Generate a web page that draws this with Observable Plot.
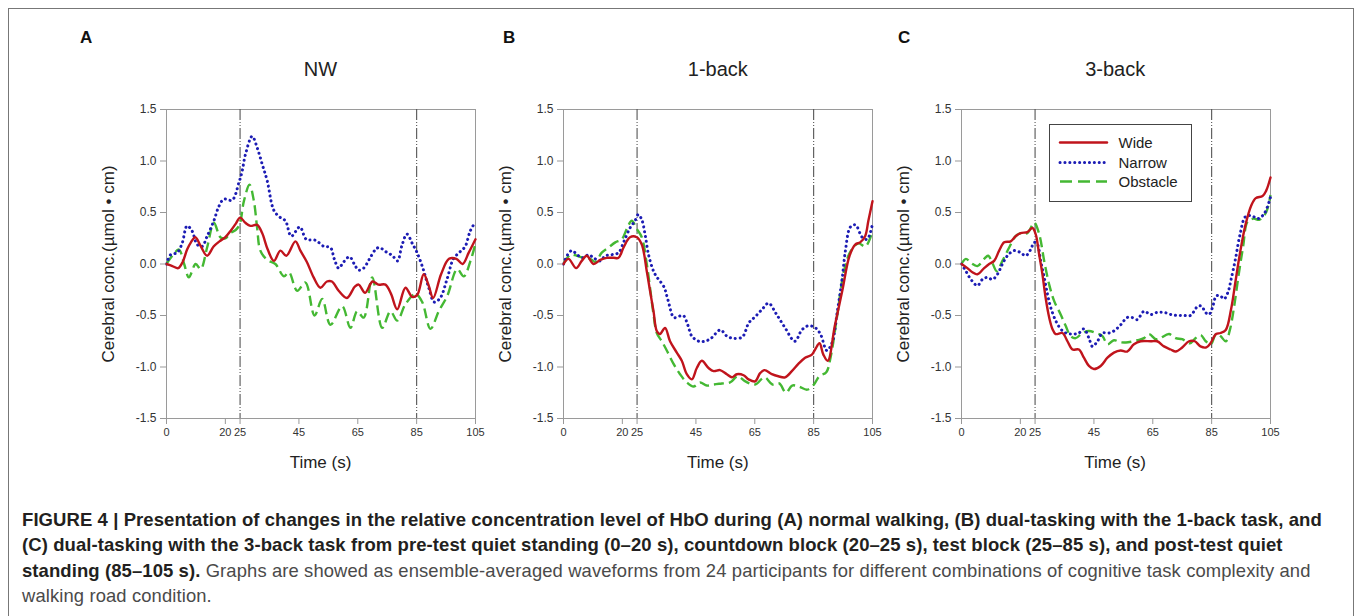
<!DOCTYPE html>
<html>
<head>
<meta charset="utf-8">
<script src="https://cdn.jsdelivr.net/npm/d3@7"></script>
<script src="https://cdn.jsdelivr.net/npm/@observablehq/plot@0.6"></script>
<style>
  html, body { margin: 0; padding: 0; background: #fff; }
  body { width: 1357px; height: 616px; overflow: hidden; position: relative; font-family: "Liberation Sans", Arial, Helvetica, sans-serif; }
  .frame { position: absolute; left: 8px; top: 8px; width: 1346px; height: 640px; border: 1px solid #777; box-sizing: border-box; }
  .abs { position: absolute; white-space: nowrap; }
  .ctr { transform: translate(-50%, -50%); }
  .letter { font-weight: bold; font-size: 17px; color: #111; }
  .title { font-size: 20px; color: #222; }
  .alabel { font-size: 17px; color: #222; }
  .ylab { transform: translate(-50%, -50%) rotate(-90deg); }
  .panel { position: absolute; }
  .caption { position: absolute; left: 22px; top: 507px; font-size: 18.5px; line-height: 25.4px; color: #231f20; white-space: nowrap; }
  .caption b { font-weight: bold; color: #231f20; font-size: 18.5px; letter-spacing: 0.08px; }
  .caption .reg { color: #4a4a4a; font-size: 18.4px; letter-spacing: 0.12px; }
  .legend { position: absolute; left: 1049px; top: 124px; width: 143px; height: 78px; border: 1.5px solid #444; box-sizing: border-box; background: #fff; }
</style>
</head>
<body>
<div class="frame"></div>
<div id="root"></div>
<script>
// ---------------- DATA ----------------
const panelLetters = ["A", "B", "C"];
const panelTitles = ["NW", "1-back", "3-back"];
const seriesNames = ["Wide", "Narrow", "Obstacle"];
const xTicks = [0, 20, 25, 45, 65, 85, 105];
const yTicks = [-1.5, -1.0, -0.5, 0.0, 0.5, 1.0, 1.5];
const markerTimes = [25, 85];
const yLabel = "Cerebral conc.(\u00b5mol \u2022 cm)";
const xLabel = "Time (s)";

// Panel A (NW)
const tA_wide = [0,2,4,5.5,7,8.3,9.8,11.5,13.8,16,18,20,22,23.5,25,26.8,28.5,30.8,32.5,34.4,36.5,38.7,40.7,43.8,45.5,47.7,50,52.3,54.5,56.2,58.5,61.3,64,65.3,67.5,70,72,74.4,76.3,78.4,81.2,83.5,85.2,87.4,89,90.6,93.3,96,98.5,100.6,102.7,105];
const vA_wide = [0,-0.02,-0.04,0.02,0.14,0.21,0.26,0.18,0.08,0.17,0.22,0.26,0.33,0.39,0.45,0.40,0.37,0.38,0.30,0.14,0.03,0.13,0.08,0.22,0.13,0.02,-0.13,-0.23,-0.17,-0.17,-0.26,-0.33,-0.22,-0.20,-0.28,-0.17,-0.20,-0.20,-0.29,-0.44,-0.23,-0.32,-0.30,-0.10,-0.20,-0.33,-0.10,0.05,0.05,0.00,0.11,0.24];
const tA_narrow = [0,1.4,3.6,5.3,7,8.7,10.4,12.1,13.8,16.1,17.8,19.5,22.3,24.6,25.7,26.8,29.1,30.8,32.5,34.2,36.5,38.7,40.4,42.4,45.3,47.5,50.6,53.5,55.7,57,58.5,60.2,62.2,63.8,65.3,67,69,71,72.3,74.5,76.8,78.5,80,81.7,83.5,85,87,89,91,93,95.3,97.5,99.8,101.5,103.2,105];
const vA_narrow = [0,0.09,0.11,0.20,0.37,0.32,0.19,0.17,0.27,0.42,0.56,0.63,0.62,0.79,0.90,1.06,1.24,1.13,0.97,0.81,0.52,0.45,0.42,0.27,0.36,0.24,0.23,0.17,0.16,0.05,-0.04,0.02,0.07,0.00,-0.06,-0.04,0.05,0.14,0.16,0.12,0.08,0.03,0.18,0.29,0.20,0.12,-0.03,-0.22,-0.37,-0.33,-0.15,0.05,0.12,0.17,0.32,0.41];
const tA_obstacle = [0,2,4.2,6,7.6,9.9,11.6,13.8,16.1,18.3,20,21.7,23.5,24.8,26.3,28.2,29.7,30.8,31.9,34.2,37,39.9,41.6,44.4,47.2,50.3,52.9,55.7,59.7,62.5,64.8,67,69.9,73.3,76.1,78.4,81.2,84.6,86.9,89.7,92.5,95.4,98.8,101,103.3,105];
const vA_obstacle = [0,0.08,0.14,0.00,-0.13,0.00,-0.05,0.16,0.40,0.26,0.25,0.30,0.33,0.38,0.61,0.77,0.61,0.35,0.13,0.04,0.00,-0.12,-0.08,-0.26,-0.18,-0.50,-0.34,-0.59,-0.41,-0.62,-0.46,-0.52,-0.13,-0.62,-0.46,-0.55,-0.39,-0.29,-0.37,-0.63,-0.46,-0.31,-0.05,-0.12,0.03,0.20];

// Panel B (1-back)
const tB_wide = [0,1.7,4.3,6.2,7.9,10.2,12.5,14.7,17,18.7,20.4,22.6,24.9,26.6,28.3,29.4,30.6,31.7,32.8,34.5,36.2,38.5,40.2,41.9,43.6,45.3,47,49.3,51,53.2,55.5,57.2,58.9,61.2,62.9,65.1,66.8,68.3,70.8,73,75.3,77.6,79.8,82.1,84.4,85.5,87,88.3,89.8,92.2,94.8,97.2,99.2,100.8,102.5,103.6,105];
const vB_wide = [0,0.05,-0.04,0.03,0.08,0.00,0.04,0.06,0.06,0.06,0.16,0.26,0.26,0.19,-0.07,-0.26,-0.46,-0.65,-0.68,-0.62,-0.75,-0.86,-0.94,-1.07,-1.12,-1.01,-0.94,-1.01,-1.04,-1.03,-1.07,-1.10,-1.07,-1.08,-1.12,-1.14,-1.06,-1.03,-1.07,-1.09,-1.10,-1.04,-0.97,-0.91,-0.88,-0.83,-0.77,-0.88,-0.94,-0.60,-0.25,0.08,0.19,0.21,0.27,0.42,0.61];
const tB_narrow = [0,1.4,2.8,5.1,6.8,8.5,10.2,12.5,14.2,16.4,18.7,20.4,22.6,24.3,25.4,26.6,27.7,28.9,30.6,31.8,34.1,35.5,37.5,39,40.7,42.2,43.6,46,48.1,50.2,53.3,55.5,57.5,60.7,63,65.2,67.5,69.7,72.2,75.3,78.6,81,83.2,85.6,87.3,89.5,91.3,93,94.7,95.8,97.5,99.2,101.5,103.2,105];
const vB_narrow = [0,0.09,0.13,0.08,0.06,0.09,0.06,0.03,0.08,0.09,0.11,0.21,0.35,0.42,0.48,0.43,0.29,0.09,-0.07,-0.13,-0.22,-0.35,-0.52,-0.51,-0.50,-0.59,-0.70,-0.75,-0.75,-0.72,-0.64,-0.70,-0.72,-0.71,-0.57,-0.51,-0.44,-0.38,-0.48,-0.62,-0.75,-0.64,-0.60,-0.62,-0.68,-0.84,-0.76,-0.47,-0.14,0.13,0.36,0.38,0.26,0.24,0.39];
const tB_obstacle = [0,2.3,4.5,6.8,9.1,10.8,13,15.3,17.6,19.8,21.5,23.2,24.9,26.6,28.3,29.4,30.6,31.7,33.4,35.1,37.4,39.6,41.9,44.2,46.4,48.7,51,53.8,56.6,59.2,61.8,65.1,68.3,71,73.3,75.6,77.7,80,82.8,85.1,86.9,89.3,90.8,93,95.3,97.5,100.2,102.6,105];
const vB_obstacle = [0,0.09,0.08,0.06,0.05,0.02,0.11,0.16,0.21,0.24,0.34,0.42,0.34,0.26,0.00,-0.23,-0.49,-0.67,-0.75,-0.84,-0.97,-1.07,-1.15,-1.19,-1.15,-1.18,-1.17,-1.16,-1.15,-1.09,-1.14,-1.17,-1.10,-1.17,-1.16,-1.25,-1.18,-1.19,-1.22,-1.17,-1.09,-1.05,-0.90,-0.50,-0.07,0.12,0.20,0.17,0.32];

// Panel C (3-back)
const tC_wide = [0,2,3.7,5.4,7.7,9.4,11.1,12.8,14.5,16.7,18.4,20.1,22.4,24.1,25.2,26.4,27.5,28.6,29.8,30.9,32,34.3,36,37.7,39.9,41.6,43.3,45,47.3,49.6,51.8,54.1,56.3,58.6,60.9,64.3,66.5,68.8,71.1,72.8,75,77.3,79.3,81.2,83.2,84.6,86.5,88,89.8,91.6,93.1,94.6,96.5,98.5,100,102.3,103.5,105];
const vC_wide = [0,-0.04,-0.08,-0.10,-0.04,0.00,0.03,0.13,0.21,0.22,0.27,0.30,0.31,0.35,0.29,0.09,-0.10,-0.33,-0.52,-0.63,-0.68,-0.67,-0.75,-0.83,-0.83,-0.91,-0.99,-1.02,-0.99,-0.91,-0.86,-0.84,-0.85,-0.78,-0.75,-0.75,-0.75,-0.80,-0.83,-0.85,-0.81,-0.75,-0.75,-0.80,-0.81,-0.77,-0.68,-0.67,-0.64,-0.44,-0.17,0.10,0.38,0.57,0.64,0.66,0.71,0.84];
const tC_narrow = [0,1.5,3.2,5.4,7.1,8.8,10.5,12.2,13.9,15.6,17.9,20.1,21.8,23.5,24.7,25.8,26.9,28.1,29.2,30.3,32,33.7,35.4,37.7,39.9,41.6,43.3,44.5,46.2,47.9,50.1,51.8,54.1,56.3,58,59.7,62,64.3,66.5,68.8,71.1,73.3,75.6,77.8,80.3,81.6,82.9,84.1,85.2,86.6,88,89.2,90.6,91.6,93.1,94.6,96.5,98.5,100.7,102.9,105];
const vC_narrow = [0,-0.07,-0.15,-0.21,-0.15,-0.13,-0.15,-0.10,0.00,0.08,0.13,0.11,0.08,0.14,0.21,0.19,0.03,-0.13,-0.29,-0.42,-0.55,-0.63,-0.67,-0.68,-0.67,-0.63,-0.72,-0.80,-0.75,-0.67,-0.67,-0.65,-0.59,-0.52,-0.52,-0.54,-0.46,-0.49,-0.47,-0.47,-0.49,-0.50,-0.50,-0.50,-0.41,-0.41,-0.47,-0.49,-0.43,-0.31,-0.31,-0.34,-0.27,-0.15,0.05,0.28,0.46,0.47,0.44,0.49,0.65];
const tC_obstacle = [0,1.5,3.2,5.4,7.7,9.1,10.5,12,13.9,16.2,18.4,20.1,22.4,24.7,26.4,28.1,29.8,31.5,33.7,35.4,37.1,38.8,41.1,43.3,45.6,47.9,49.6,51.8,54.1,56.6,59.8,62,63.7,66,67.5,70.5,72.8,75,77.6,79.5,81.3,83,84.7,86.5,88,89.8,91.2,92.6,94.1,95.7,97.2,99.2,101.3,103.5,105];
const vC_obstacle = [0,0.05,0.01,-0.02,0.05,0.08,0.01,-0.07,0.03,0.16,0.27,0.30,0.30,0.40,0.29,0.03,-0.20,-0.36,-0.49,-0.60,-0.70,-0.72,-0.67,-0.65,-0.67,-0.70,-0.78,-0.74,-0.76,-0.76,-0.74,-0.72,-0.68,-0.73,-0.72,-0.68,-0.72,-0.73,-0.77,-0.72,-0.69,-0.75,-0.78,-0.68,-0.70,-0.75,-0.64,-0.42,-0.12,0.17,0.41,0.44,0.43,0.50,0.67];

const captionLines = [
  ["FIGURE 4 | Presentation of changes in the relative concentration level of HbO during (A) normal walking, (B) dual-tasking with the 1-back task, and", ""],
  ["(C) dual-tasking with the 3-back task from pre-test quiet standing (0\u201320 s), countdown block (20\u201325 s), test block (25\u201385 s), and post-test quiet", ""],
  ["standing (85\u2013105 s).", " Graphs are showed as ensemble-averaged waveforms from 24 participants for different combinations of cognitive task complexity and"],
  ["", "walking road condition."]
];

// ---------------- STYLES ----------------
const seriesStyle = {
  Wide:     {stroke: "#c0141c", strokeWidth: 2.4, strokeDasharray: null, strokeLinecap: "round"},
  Narrow:   {stroke: "#1c1cb4", strokeWidth: 3, strokeDasharray: "0.1,4.8", strokeLinecap: "round"},
  Obstacle: {stroke: "#44b833", strokeWidth: 2.4, strokeDasharray: "10,5", strokeLinecap: "butt"}
};

const panelData = [
  {Wide: [tA_wide, vA_wide], Narrow: [tA_narrow, vA_narrow], Obstacle: [tA_obstacle, vA_obstacle]},
  {Wide: [tB_wide, vB_wide], Narrow: [tB_narrow, vB_narrow], Obstacle: [tB_obstacle, vB_obstacle]},
  {Wide: [tC_wide, vC_wide], Narrow: [tC_narrow, vC_narrow], Obstacle: [tC_obstacle, vC_obstacle]}
];

// layout: plot-area left edges (page px), common top
const plotLefts = [166, 563.3, 960.7];
const plotTop = 109, plotW = 309, plotH = 309;
const mL = 50, mT = 10, mR = 10, mB = 40;

const root = document.getElementById("root");

function addText(cls, text, x, y, extraStyle) {
  const d = document.createElement("div");
  d.className = "abs " + cls;
  d.textContent = text;
  d.style.left = x + "px";
  d.style.top = y + "px";
  if (extraStyle) Object.assign(d.style, extraStyle);
  root.appendChild(d);
  return d;
}

panelData.forEach((pd, i) => {
  const marks = [
    Plot.frame({stroke: "#9a9a9a", strokeWidth: 1}),
    Plot.ruleX(markerTimes, {stroke: "#555", strokeWidth: 1.1, strokeDasharray: "11,2,1,2,1,2"})
  ];
  // draw order: obstacle, narrow, wide
  ["Obstacle", "Narrow", "Wide"].forEach(name => {
    const [ts, vs] = pd[name];
    const rows = ts.map((t, k) => ({t, v: vs[k]}));
    const s = seriesStyle[name];
    marks.push(Plot.line(rows, {x: "t", y: "v", curve: "catmull-rom", stroke: s.stroke, strokeWidth: s.strokeWidth,
      strokeDasharray: s.strokeDasharray, strokeLinecap: s.strokeLinecap, strokeLinejoin: "round"}));
  });
  marks.push(Plot.axisX({ticks: xTicks, tickFormat: d => String(d), tickSize: 6, tickPadding: 4, fontSize: 11, stroke: "#999", fill: "#333", label: null}));
  marks.push(Plot.axisY({ticks: yTicks, tickFormat: d => d.toFixed(1), tickSize: 6, tickPadding: 4, fontSize: 12, stroke: "#999", fill: "#333", label: null}));

  const chart = Plot.plot({
    width: mL + plotW + mR,
    height: mT + plotH + mB,
    marginLeft: mL, marginTop: mT, marginRight: mR, marginBottom: mB,
    x: {domain: [0, 105], label: null},
    y: {domain: [-1.5, 1.5], label: null},
    style: {fontFamily: "'Liberation Sans', Arial, sans-serif", background: "transparent", overflow: "visible", color: "#333"},
    marks
  });
  const wrap = document.createElement("div");
  wrap.className = "panel";
  wrap.style.left = (plotLefts[i] - mL) + "px";
  wrap.style.top = (plotTop - mT) + "px";
  wrap.appendChild(chart);
  root.appendChild(wrap);

  const cx = plotLefts[i] + plotW / 2;
  addText("title ctr", panelTitles[i], cx, 69);
  addText("alabel ctr", xLabel, cx, 463);
  addText("alabel ylab", yLabel, plotLefts[i] - 57, plotTop + plotH / 2);
});

// panel letters
const letterX = [80, 503, 898];
panelLetters.forEach((L, i) => addText("letter", L, letterX[i], 28));

// legend (in panel C)
const legend = document.createElement("div");
legend.className = "legend";
const ns = "http://www.w3.org/2000/svg";
const lsvg = document.createElementNS(ns, "svg");
lsvg.setAttribute("width", 140);
lsvg.setAttribute("height", 75);
lsvg.style.position = "absolute";
lsvg.style.left = "0px";
lsvg.style.top = "0px";
const rowY = [17.5, 37.5, 56.5];
seriesNames.forEach((name, k) => {
  const s = seriesStyle[name];
  const ln = document.createElementNS(ns, "line");
  ln.setAttribute("x1", 10); ln.setAttribute("x2", 57);
  ln.setAttribute("y1", rowY[k]); ln.setAttribute("y2", rowY[k]);
  ln.setAttribute("stroke", s.stroke);
  ln.setAttribute("stroke-width", s.strokeWidth);
  if (s.strokeDasharray) ln.setAttribute("stroke-dasharray", name === "Obstacle" ? "12,6" : s.strokeDasharray);
  ln.setAttribute("stroke-linecap", s.strokeLinecap);
  lsvg.appendChild(ln);
  const tx = document.createElementNS(ns, "text");
  tx.setAttribute("x", 68.5);
  tx.setAttribute("y", rowY[k] + 5.3);
  tx.setAttribute("font-size", 15);
  tx.setAttribute("font-family", "'Liberation Sans', Arial, sans-serif");
  tx.setAttribute("fill", "#222");
  tx.textContent = name;
  lsvg.appendChild(tx);
});
legend.appendChild(lsvg);
root.appendChild(legend);

// caption
const cap = document.createElement("div");
cap.className = "caption";
captionLines.forEach(([b, r]) => {
  const line = document.createElement("div");
  if (b) { const e = document.createElement("b"); e.textContent = b; line.appendChild(e); }
  if (r) { const e = document.createElement("span"); e.className = "reg"; e.textContent = r; line.appendChild(e); }
  cap.appendChild(line);
});
root.appendChild(cap);
</script>
</body>
</html>
